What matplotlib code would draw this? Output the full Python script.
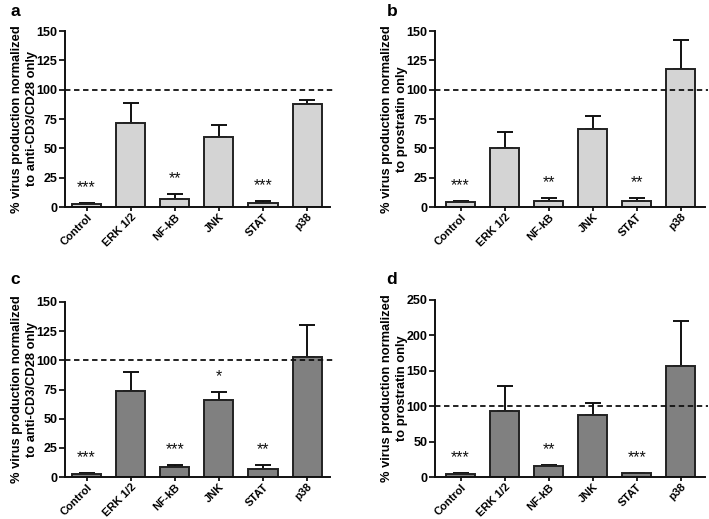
import matplotlib
matplotlib.use("Agg")
import matplotlib.pyplot as plt

plt.rcParams['font.family'] = ['Liberation Sans', 'DejaVu Sans']

categories = ["Control", "ERK 1/2", "NF-kB", "JNK", "STAT", "p38"]

a_mean = [2.5, 71.5, 7, 60, 3, 88]
a_err = [1.0, 17.5, 4.5, 10, 2, 3.5]
a_sig = ["***", "", "**", "", "***", ""]

b_mean = [4, 50.5, 5.5, 66.5, 5, 117.5]
b_err = [1.5, 13, 2, 11, 2.5, 24.5]
b_sig = ["***", "", "**", "", "**", ""]

c_mean = [2.5, 73.5, 8.5, 66, 7, 102.5]
c_err = [1, 16.5, 2, 7, 3, 27.5]
c_sig = ["***", "", "***", "*", "**", ""]

d_mean = [4, 93, 15, 87, 5, 157]
d_err = [1.5, 36, 2.5, 18, 1, 64]
d_sig = ["***", "", "**", "", "***", ""]

ylab_cd3 = "% virus production normalized\nto anti-CD3/CD28 only"
ylab_pro = "% virus production normalized\nto prostratin only"

W, H = 709, 519
fig = plt.figure(figsize=(W / 100, H / 100), dpi=100)


def px_axes(left, right, y0, ytop):
    return fig.add_axes([left / W, (H - y0) / H, (right - left) / W, (y0 - ytop) / H])


panels = [
    ("a", (65, 330, 207, 31), (-0.49, 5.52), a_mean, a_err, a_sig, "#d4d4d4", ylab_cd3, 150, 25, (15, 12)),
    ("b", (435, 705, 207, 31), (-0.58, 5.55), b_mean, b_err, b_sig, "#d4d4d4", ylab_pro, 150, 25, (392, 12)),
    ("c", (65, 330, 477, 302), (-0.49, 5.52), c_mean, c_err, c_sig, "#808080", ylab_cd3, 150, 25, (15, 279)),
    ("d", (435, 705, 477, 300), (-0.58, 5.55), d_mean, d_err, d_sig, "#808080", ylab_pro, 250, 50, (392, 279)),
]

for letter, box, xl, mean, err, sig, col, ylab, ymax, step, lpos in panels:
    ax = px_axes(*box)
    x = list(range(len(categories)))
    ax.bar(x, mean, width=0.66, color=col, edgecolor="#222222", linewidth=1.4, zorder=2)
    ax.errorbar(x, mean, yerr=[[0] * len(err), err], fmt="none", ecolor="#111111",
                elinewidth=1.4, capsize=5.5, capthick=1.4, zorder=1)
    ax.axhline(100, xmin=0, xmax=1.012, color="#111111", ls=(0, (3, 2)), lw=1.3, clip_on=False, zorder=3)
    for xi, m, e, s in zip(x, mean, err, sig):
        if s:
            ax.annotate(s, xy=(xi, m + e), xytext=(0, 11), textcoords="offset points",
                        ha="center", va="center", fontsize=11.5, color="#111111")
    ax.set_xlim(*xl)
    ax.set_ylim(0, ymax)
    ax.set_yticks(range(0, ymax + 1, step))
    ax.set_xticks(x)
    ax.set_xticklabels(categories, rotation=45, ha="right", rotation_mode="anchor",
                       fontweight="bold", fontsize=8)
    for t in ax.get_yticklabels():
        t.set_fontweight("bold")
        t.set_fontsize(9)
    for sp in ["top", "right"]:
        ax.spines[sp].set_visible(False)
    for sp in ["left", "bottom"]:
        ax.spines[sp].set_linewidth(1.4)
        ax.spines[sp].set_color("#111111")
    ax.tick_params(axis="y", length=4, width=1.2, pad=1.5)
    ax.tick_params(axis="x", length=3, width=1.2, pad=0.5)
    ax.set_ylabel(ylab, fontsize=9.3, fontweight="bold", linespacing=1.3)
    ax.yaxis.set_label_coords(-27 / (box[1] - box[0]), 0.5)
    fig.text(lpos[0] / W, 1 - lpos[1] / H, letter, fontsize=12.5, fontweight="bold",
             ha="center", va="center")

fig.savefig("out.png", dpi=100)
